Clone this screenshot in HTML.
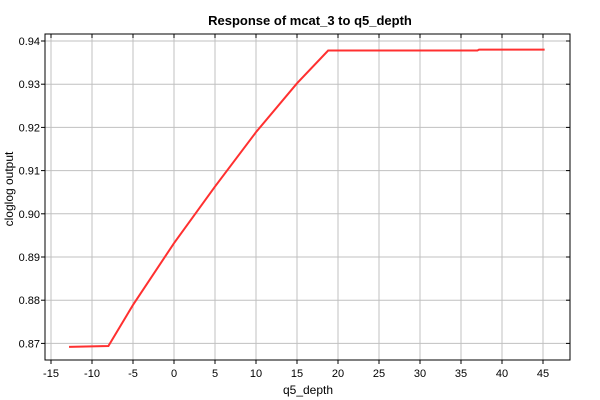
<!DOCTYPE html>
<html><head><style>
body{margin:0;background:#fff;}
svg{display:block;font-family:"Liberation Sans",sans-serif;}
</style></head><body>
<svg id="c" width="600" height="400">
<rect x="0" y="0" width="600" height="400" fill="#fff"/>
<text x="310" y="25" text-anchor="middle" font-size="13" font-weight="bold">Response of mcat_3 to q5_depth</text>
<text x="308" y="394" text-anchor="middle" font-size="12">q5_depth</text>
<text transform="translate(13,189) rotate(-90)" text-anchor="middle" font-size="12">cloglog output</text>
<g id="grid"></g><g id="axes"></g><g id="series"></g>
</svg>
<script>
const xTicks=[-15,-10,-5,0,5,10,15,20,25,30,35,40,45];
const yTicks=[0.87,0.88,0.89,0.90,0.91,0.92,0.93,0.94];
const yLabels=["0.87","0.88","0.89","0.90","0.91","0.92","0.93","0.94"];
const xVals=[-12.8,-8,-5,0,5,10,15,18.8,25,30,37,37.2,45.2];
const yVals=[0.8692,0.8694,0.8789,0.8932,0.9063,0.9189,0.9302,0.9378,0.9378,0.9378,0.9378,0.9380,0.9380];
const L=45,R=570,T=34,B=360;
const X=v=>174+v*8.2;
const Y=v=>41+(0.94-v)*4320;
const ns="http://www.w3.org/2000/svg";
const g=document.getElementById('grid'),a=document.getElementById('axes'),s=document.getElementById('series');
function mk(p,tag,at){const e=document.createElementNS(ns,tag);for(const k in at)e.setAttribute(k,at[k]);p.appendChild(e);return e;}
xTicks.forEach(t=>{const x=X(t);
 const l=mk(g,'line',{x1:x,x2:x,y1:T,y2:B,stroke:'#c0c0c0'});
 
 
 mk(a,'line',{x1:x,x2:x,y1:B,y2:B+4,stroke:'#000'});
 mk(a,'line',{x1:x,x2:x,y1:T,y2:T+4,stroke:'#000'});
 const tx=mk(a,'text',{x:x,y:B+17,'text-anchor':'middle','font-size':11});tx.textContent=t;
 
 
});
yTicks.forEach((t,i)=>{const y=Y(t);
 const l=mk(g,'line',{x1:L,x2:R,y1:y,y2:y,stroke:'#c0c0c0'});
 
 
 mk(a,'line',{x1:L-4,x2:L,y1:y,y2:y,stroke:'#000'});
 mk(a,'line',{x1:R-4,x2:R,y1:y,y2:y,stroke:'#000'});
 const tx=mk(a,'text',{x:L-5,y:y+4,'text-anchor':'end','font-size':11});tx.textContent=yLabels[i];
 
 
});
const fr=mk(a,'rect',{x:L,y:T,width:R-L,height:B-T,fill:'none',stroke:'#000'});


const pl=mk(s,'polyline',{points:xVals.map((v,i)=>X(v)+','+Y(yVals[i])).join(' '),fill:'none',stroke:'#ff3030','stroke-width':2});


</script>
</body></html>
